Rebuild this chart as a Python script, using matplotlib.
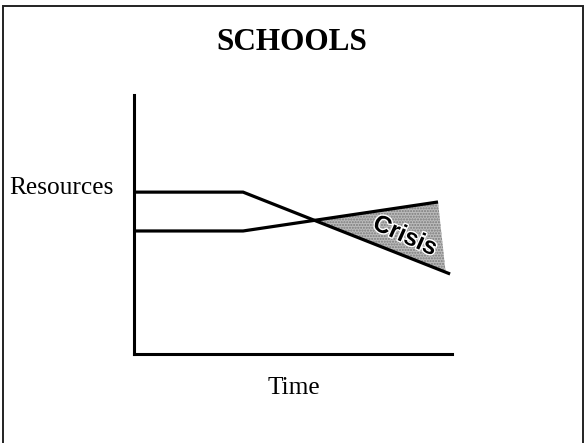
import numpy as np
import matplotlib
matplotlib.use("Agg")
import matplotlib.pyplot as plt
import matplotlib.patheffects as pe
from matplotlib.patches import Rectangle

# schematic values, axis units 0..10
time_res = [0, 3.43, 9.94]
resources = [6.25, 6.25, 3.09]
time_need = [0, 3.43, 9.56]
need = [4.75, 4.75, 5.87]
crisis_end = 9.8          # where the shaded wedge meets the falling line

title = "SCHOOLS"
ylabel = "Resources"
xlabel = "Time"
crisis_label = "Crisis"

W, H = 586, 443
fig = plt.figure(figsize=(W / 100, H / 100), dpi=100)
fig.patch.set_facecolor("white")

# axes box placed where the drawn axis lines are (pixels)
x0, x1, ytop, ybot = 134, 452, 95, 354
ax = fig.add_axes([x0 / W, 1 - ybot / H, (x1 - x0) / W, (ybot - ytop) / H])
ax.set_xlim(0, 10)
ax.set_ylim(0, 10)
for s in ["top", "right"]:
    ax.spines[s].set_visible(False)
for s in ["left", "bottom"]:
    ax.spines[s].set_linewidth(2.2)
    ax.spines[s].set_color("black")
ax.set_xticks([])
ax.set_yticks([])
ax.patch.set_alpha(0)

# shaded crisis wedge: from crossing to the right end
xs = np.linspace(time_res[1], time_need[-1], 2000)
diff = np.interp(xs, time_res, resources) - np.interp(xs, time_need, need)
xc = xs[np.argmax(diff <= 0)]
yc = np.interp(xc, time_res, resources)
wx = [xc, time_need[-1], crisis_end]
wy = [yc, need[-1], np.interp(crisis_end, time_res, resources)]
ax.fill(wx, wy, facecolor="#bcbcbc", edgecolor="#7a7a7a", hatch="......",
        linewidth=0, zorder=1)

ax.plot(time_res, resources, color="black", lw=2.3, solid_capstyle="butt",
        solid_joinstyle="miter", zorder=3)
ax.plot(time_need, need, color="black", lw=2.3, solid_capstyle="butt",
        solid_joinstyle="miter", zorder=3)

ax.text(8.52, 4.55, crisis_label, rotation=-24, ha="center", va="center",
        rotation_mode="anchor", fontsize=17.5, fontweight="bold",
        family="Liberation Sans", color="black", zorder=4,
        path_effects=[pe.withStroke(linewidth=2, foreground="white")])

fig.text(292 / W, 1 - 43 / H, title, ha="center", va="center",
         fontsize=22.5, fontweight="bold", family="Liberation Serif")
fig.text(9 / W, 1 - 188 / H, ylabel, ha="left", va="center",
         fontsize=18.3, family="Liberation Serif")
fig.text(294 / W, 1 - 388 / H, xlabel, ha="center", va="center",
         fontsize=18.3, family="Liberation Serif")

# outer frame, bottom edge runs off the picture
fig.patches.append(Rectangle((3 / W, -0.05), 580 / W, 1.05 - 6 / H,
                             transform=fig.transFigure, fill=False,
                             edgecolor="#222222", linewidth=1.4))

fig.savefig("out.png", dpi=100)
